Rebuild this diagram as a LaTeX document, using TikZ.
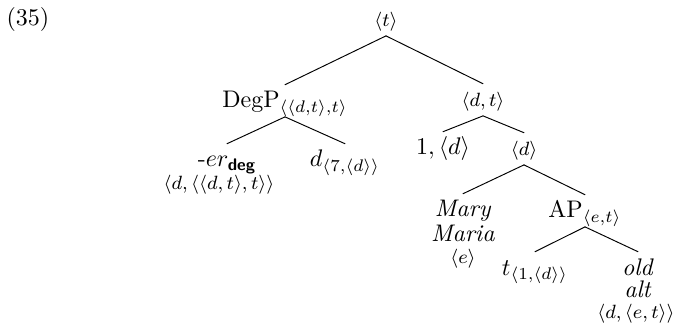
\documentclass[tikz,border=0pt]{standalone}
\usepackage{amsmath,amssymb}
\usetikzlibrary{positioning}

\begin{document}
\begin{tikzpicture}[x=0.41667pt,y=-0.41667pt,line cap=round,line join=round,
  tn/.style={anchor=base,inner sep=0pt,text height=9.5pt,text depth=3.5pt},
  tx/.style={anchor=base,inner sep=0pt},
  ty/.style={anchor=base,inner sep=0pt,font=\footnotesize}]
 \useasboundingbox (0,0) rectangle (673,325);
 \node[tx] (ex) at (28,26) {(35)};
 % tree nodes
 \node[tn,font=\footnotesize] (root) at (386,27) {$\langle t\rangle$};
 \node[tn] (degp) at (285,108) {DegP$_{\langle\langle d,t\rangle,t\rangle}$};
 \node[tn,font=\footnotesize] (dt) at (483,107) {$\langle d,t\rangle$};
 \node[tn] (er) at (227,167) {-$er_{\text{\sffamily\bfseries deg}}$};
 \node[ty] (ertype) at (219,190) {$\langle d,\langle\langle d,t\rangle,t\rangle\rangle$};
 \node[tn] (dvar) at (345,167) {$d_{\langle 7,\langle d\rangle\rangle}$};
 \node[tn] (one) at (443,155) {$1,\langle d\rangle$};
 \node[tn,font=\footnotesize] (dnode) at (524,156) {$\langle d\rangle$};
 \node[tn] (mary) at (463,217) {\textit{Mary}};
 \node[tx] (maria) at (463,241) {\textit{Maria}};
 \node[ty] (marytype) at (463,263) {$\langle e\rangle$};
 \node[tn] (ap) at (585,218) {AP$_{\langle e,t\rangle}$};
 \node[tn] (tvar) at (535,275) {$t_{\langle 1,\langle d\rangle\rangle}$};
 \node[tn] (old) at (638,275) {\textit{old}};
 \node[tx] (alt) at (638,297) {\textit{alt}};
 \node[ty] (oldtype) at (636,318) {$\langle d,\langle e,t\rangle\rangle$};
 % branches
 \draw (root.south) -- (degp.north);
 \draw (root.south) -- (dt.north);
 \draw (degp.south) -- (er.north);
 \draw (degp.south) -- (dvar.north);
 \draw (dt.south) -- (one.north);
 \draw (dt.south) -- (dnode.north);
 \draw (dnode.south) -- (mary.north);
 \draw (dnode.south) -- (ap.north);
 \draw (ap.south) -- (tvar.north);
 \draw (ap.south) -- (old.north);
\end{tikzpicture}
\end{document}
